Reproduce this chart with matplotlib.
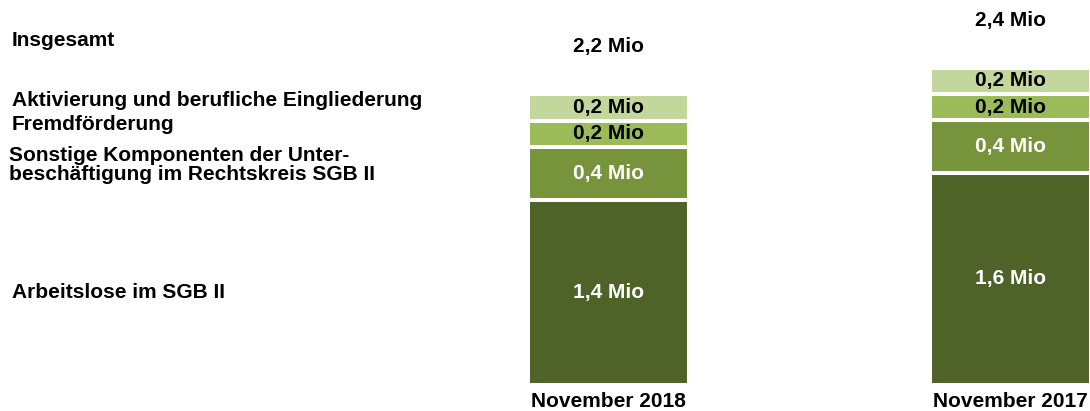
import numpy as np
import matplotlib
matplotlib.use('Agg')
import matplotlib.pyplot as plt

plt.rcParams['font.family'] = ['Liberation Sans', 'DejaVu Sans']

PERIODS = ['November 2018', 'November 2017']
SEGMENTS = [
    'Arbeitslose im SGB II',
    'Sonstige Komponenten der Unter-\nbeschäftigung im Rechtskreis SGB II',
    'Fremdförderung',
    'Aktivierung und berufliche Eingliederung',
]
VALUES = {
    'November 2018': [1.4, 0.4, 0.2, 0.2],
    'November 2017': [1.6, 0.4, 0.2, 0.2],
}
TOTALS = [2.2, 2.4]

COLORS = ['#4F6228', '#77933C', '#9BBB59', '#C3D69B']
TEXT_COLORS = ['white', 'white', 'black', 'black']

W, H, DPI = 1090, 411, 100
FS = 15.0


def fmt(v):
    return f'{v:.1f}'.replace('.', ',') + ' Mio'


fig = plt.figure(figsize=(W / DPI, H / DPI), dpi=DPI)
ax = fig.add_axes([0, 0, 1, 1])
ax.axis('off')

px_per_unit_x = 402.0
px_per_mio = 132.0
x0_px, base_px = 608.5, 384.5
ax.set_xlim(-x0_px / px_per_unit_x, (W - x0_px) / px_per_unit_x)
ax.set_ylim(-(H - base_px) / px_per_mio, base_px / px_per_mio)

xs = np.arange(len(PERIODS))
bar_w = 161 / px_per_unit_x
for i, period in enumerate(PERIODS):
    vals = VALUES[period]
    bottom = 0.0
    for k, v in enumerate(vals):
        ax.bar(xs[i], v, bottom=bottom, width=bar_w, color=COLORS[k],
               edgecolor='white', linewidth=2.9)
        ax.text(xs[i], bottom + v / 2, fmt(v), ha='center', va='center',
                fontsize=FS, fontweight='bold', color=TEXT_COLORS[k])
        bottom += v
    ax.text(xs[i], bottom + 0.36, fmt(TOTALS[i]), ha='center', va='center',
            fontsize=FS, fontweight='bold', color='black')
    ax.text(xs[i], -0.125, period, ha='center', va='center',
            fontsize=FS, fontweight='bold', color='black')

# left-hand category labels
left_labels = [
    ('Insgesamt', 12, 41),
    (SEGMENTS[3], 12, 101),
    (SEGMENTS[2], 12, 125),
    (SEGMENTS[1], 9, 165),
    (SEGMENTS[0], 12, 292),
]
for txt, xp, yp in left_labels:
    fig.text(xp / W, 1 - yp / H, txt, ha='left', va='center',
             fontsize=FS, fontweight='bold', color='black', linespacing=1.05)

fig.savefig('out.png', dpi=DPI, facecolor='white')
